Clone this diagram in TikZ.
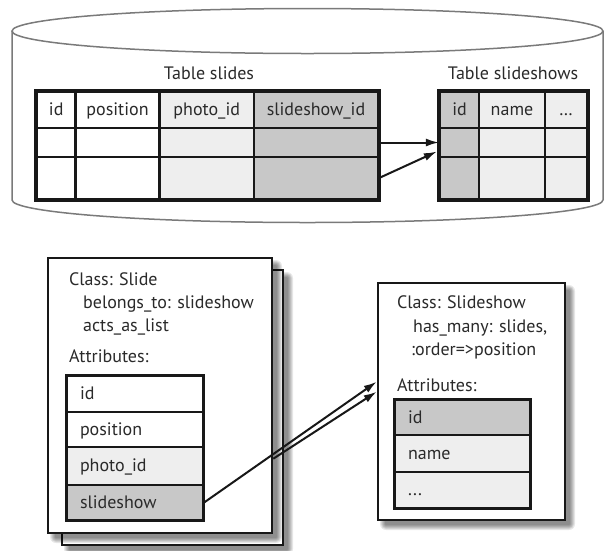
\documentclass[tikz,border=0pt]{standalone}
\usepackage{fontspec}
\setmainfont{PT Sans}
\usetikzlibrary{arrows.meta,calc}
\definecolor{lightcell}{HTML}{EEEEEE}
\definecolor{darkcell}{HTML}{C8C8C8}
\definecolor{cylline}{HTML}{7A7A7A}
\definecolor{inktext}{HTML}{2A2A2A}
\definecolor{ink}{HTML}{181818}
\newcommand\tcell[7]{\node[tcellst, fill=#6, minimum width={(#4-#2)*1pt}, minimum height={(#5-#3)*1pt}] (#1) at ({(#2+#4)/2},{(#3+#5)/2}) {#7};}
\newcommand\softshadow[4]{\foreach \s in {1,...,6}{\fill[black,opacity=0.09,rounded corners=\s pt] ({#1+8-\s},{#2+8-\s}) rectangle ({#3+4+\s},{#4+4+\s});}}
\tikzset{
  txtfont/.style={font=\fontsize{18pt}{22pt}\selectfont, text=inktext},
  tcellst/.style={draw=ink, line width=2.2pt, inner sep=0pt, txtfont, text height=12.5pt, text depth=1pt},
  lcellA/.style={tcellst, text width=110pt, align=left, inner xsep=13pt},
  lcellB/.style={tcellst, text width=109pt, align=left, inner xsep=13pt},
  outerline/.style={draw=ink, line width=3pt},
  boxst/.style={draw=ink, line width=2.6pt, fill=white, inner sep=0pt},
  lbl/.style={txtfont, inner sep=0pt, anchor=base west},
  arr/.style={draw=ink, line width=2pt, -{Latex[length=13pt,width=8pt]}},
}
\begin{document}
\begin{tikzpicture}[x=1pt,y=-1pt]
\useasboundingbox (0,0) rectangle (605,550);
\fill[white] (0,0) rectangle (605,550);
% cylinder
\draw[cylline, line width=1.5pt] (12,31) -- (12,200) arc[start angle=180, end angle=0, x radius=295.5, y radius=22.5] -- (603,31);
\draw[cylline, line width=1.5pt] (307.5,31) ellipse [x radius=295.5, y radius=22.5];
% titles
\node[txtfont, inner sep=0pt, anchor=base] (tslides) at (209,79) {Table slides};
\node[txtfont, inner sep=0pt, anchor=base] (tshows) at (513,79) {Table slideshows};
% table slides
\tcell{s-id}{37}{91.5}{75.5}{128}{white}{id}
\tcell{s-pos}{75.5}{91.5}{159.5}{128}{white}{position}
\tcell{s-photo}{159.5}{91.5}{254}{128}{lightcell}{photo\_id}
\tcell{s-ssid}{254}{91.5}{378}{128}{darkcell}{slideshow\_id}
\tcell{s-id1}{37}{128}{75.5}{157}{white}{}
\tcell{s-pos1}{75.5}{128}{159.5}{157}{white}{}
\tcell{s-photo1}{159.5}{128}{254}{157}{lightcell}{}
\tcell{s-ssid1}{254}{128}{378}{157}{darkcell}{}
\tcell{s-id2}{37}{157}{75.5}{199}{white}{}
\tcell{s-pos2}{75.5}{157}{159.5}{199}{white}{}
\tcell{s-photo2}{159.5}{157}{254}{199}{lightcell}{}
\tcell{s-ssid2}{254}{157}{378}{199}{darkcell}{}
\draw[outerline] (s-id.north west) rectangle (s-ssid2.south east);
% table slideshows
\tcell{h-id}{440}{91.5}{479}{128}{darkcell}{id}
\tcell{h-name}{479}{91.5}{545}{128}{lightcell}{name}
\tcell{h-more}{545}{91.5}{587}{128}{lightcell}{\ldots}
\tcell{h-id1}{440}{128}{479}{157}{darkcell}{}
\tcell{h-name1}{479}{128}{545}{157}{lightcell}{}
\tcell{h-more1}{545}{128}{587}{157}{lightcell}{}
\tcell{h-id2}{440}{157}{479}{199}{darkcell}{}
\tcell{h-name2}{479}{157}{545}{199}{lightcell}{}
\tcell{h-more2}{545}{157}{587}{199}{lightcell}{}
\draw[outerline] (h-id.north west) rectangle (h-more2.south east);
% top arrows
\coordinate (tipB) at ($(h-id1.west)+(-2,9)$);
\draw[arr] (s-ssid1.east) -- (h-id1.west);
\draw[arr] (s-ssid2.east) -- (tipB);
% class Slide
\softshadow{62}{270}{283}{545}
\node[boxst, minimum width=221pt, minimum height=275pt] (slideback) at (172.5,407.5) {};
\softshadow{48}{258}{272}{533}
\node[boxst, minimum width=224pt, minimum height=275pt] (slidefront) at (160,395.5) {};
\node[lbl] (sl1) at (69,285) {Class: Slide};
\node[lbl] (sl2) at (83,308) {belongs\_to: slideshow};
\node[lbl] (sl3) at (83,331) {acts\_as\_list};
\node[lbl] (sl4) at (69,362) {Attributes:};
\node[lcellA, fill=white, minimum height=36pt] (a-id) at (135,394) {id};
\node[lcellA, fill=white, minimum height=35pt] (a-pos) at (135,429.5) {position};
\node[lcellA, fill=lightcell, minimum height=38pt] (a-photo) at (135,466) {photo\_id};
\node[lcellA, fill=darkcell, minimum height=35pt] (a-show) at (135,502.5) {slideshow};
\draw[outerline, line width=2.4pt] (a-id.north west) rectangle (a-show.south east);
% class Slideshow
\softshadow{378}{283}{565}{520}
\node[boxst, minimum width=187pt, minimum height=237pt] (showbox) at (471.5,401.5) {};
\node[lbl] (sh1) at (397,308) {Class: Slideshow};
\node[lbl] (sh2) at (413,332) {has\_many: slides,};
\node[lbl] (sh3) at (411,355) {:order=>position};
\node[lbl] (sh4) at (397,391) {Attributes:};
\node[lcellB, fill=darkcell, minimum height=35pt] (b-id) at (462.5,417.5) {id};
\node[lcellB, fill=lightcell, minimum height=37pt] (b-name) at (462.5,453.5) {name};
\node[lcellB, fill=lightcell, minimum height=36pt] (b-more) at (462.5,490) {...};
\draw[outerline, line width=2.4pt] (b-id.north west) rectangle (b-more.south east);
% lower arrows
\coordinate (tipC) at ($(showbox.north west)+(0,100)$);
\coordinate (tipD) at ($(showbox.north west)+(0,110)$);
\coordinate (startD) at ($(slidefront.north east)+(0,202)$);
\draw[arr] (a-show.east) -- (tipC);
\draw[arr] (startD) -- (tipD);
\end{tikzpicture}
\end{document}
